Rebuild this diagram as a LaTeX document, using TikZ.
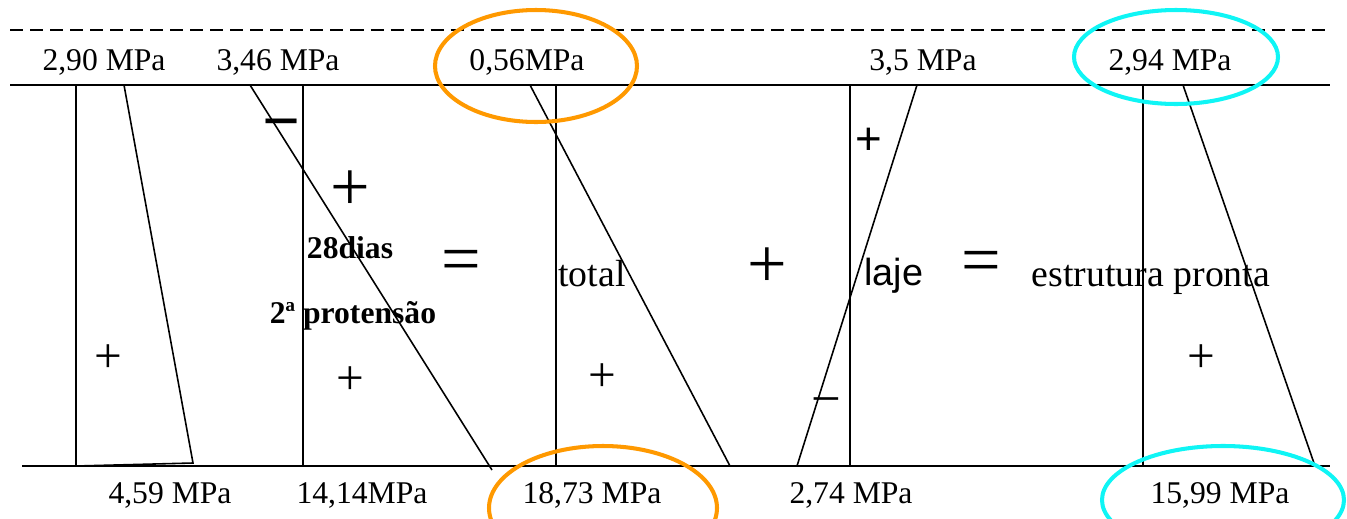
\documentclass[tikz,border=0pt]{standalone}
\usepackage{fontspec}
\setmainfont{Liberation Serif}
\newfontfamily\arialfont{Liberation Sans}
\usetikzlibrary{positioning}
\definecolor{Orange}{HTML}{FF9900}
\definecolor{Aqua}{HTML}{0FF5F5}

\begin{document}
\begin{tikzpicture}[x=0.02cm, y=-0.02cm, line width=0.9pt,
  val/.style={font=\fontsize{18}{20}\selectfont, inner sep=0pt, anchor=base},
  word/.style={font=\fontsize{21.5}{24}\selectfont, inner sep=0pt, anchor=base},
  sgn/.style={font=\fontsize{28}{30}\selectfont, inner sep=0pt},
  bigsgn/.style={font=\fontsize{40}{42}\selectfont, inner sep=0pt},
  ring/.style={line width=2.3pt}]
\useasboundingbox (0,0) rectangle (1347,518);

% section lines
\draw[dash pattern=on 7.4pt off 4pt] (10,30) coordinate (dl) -- (1330,30) coordinate (dr);
\draw (10,85) coordinate (tl) -- (1330,85) coordinate (tr);
\draw (22,466) coordinate (bl) -- (1330,466) coordinate (br);

% axes of the five diagrams
\foreach \x/\n in {76/d1,303/d2,556/d3,850/d4,1143/d5}
  \draw (\x,85) coordinate (\n t) -- (\x,466) coordinate (\n b);

% stress lines
\coordinate (p1) at (124,85);
\coordinate (q1) at (193,463);
\draw (d1t) -- (p1) -- (q1) -- (d1b);
\coordinate (p2) at (250,85);
\coordinate (q2) at (492,470);
\draw (p2) -- (q2);
\coordinate (p3) at (530,85);
\coordinate (q3) at (730,466);
\draw (p3) -- (q3);
\coordinate (p4) at (917,85);
\coordinate (q4) at (797,466);
\draw (p4) -- (q4);
\coordinate (p5) at (1183,85);
\coordinate (q5) at (1315,466);
\draw (p5) -- (q5);

% top values
\node[val] (t1) at (104,70) {2,90 MPa};
\node[val] (t2) at (278,70) {3,46 MPa};
\node[val] (t3) at (527,70) {0,56MPa};
\node[val] (t4) at (923,70) {3,5 MPa};
\node[val] (t5) at (1170,70) {2,94 MPa};

% bottom values
\node[val] (b1) at (170,503) {4,59 MPa};
\node[val] (b2) at (362,503) {14,14MPa};
\node[val] (b3) at (592,503) {18,73 MPa};
\node[val] (b4) at (851,503) {2,74 MPa};
\node[val] (b5) at (1220,503) {15,99 MPa};

% signs inside the diagrams
\node[sgn] (s1) at (108,359) {+};
\node[sgn, font=\bfseries\fontsize{38}{40}\selectfont] (s2a) at (282,131) {−};
\node[bigsgn] (s2b) at (350,191) {+};
\node[sgn] (s2c) at (350,381) {+};
\node[sgn] (s3) at (602,378) {+};
\node[sgn, font=\arialfont\fontsize{26}{28}\selectfont] (s4a) at (869,141) {+};
\node[sgn, font=\fontsize{30}{32}\selectfont] (s4b) at (826,407) {−};
\node[sgn] (s5) at (1201,359) {+};

% names and operators
\node[val, font=\bfseries\fontsize{18}{20}\selectfont] (n2a) at (350,258) {28dias};
\node[val, font=\bfseries\fontsize{18}{20}\selectfont] (n2b) at (353,323) {2ª protensão};
\node[word] (n3) at (592,286) {total};
\node[word, font=\arialfont\fontsize{21.5}{24}\selectfont] (n4) at (894,285) {laje};
\node[word] (n5) at (1151,286) {estrutura pronta};
\node[bigsgn] (eq1) at (461,266) {=};
\node[bigsgn] (op1) at (767,268) {+};
\node[bigsgn] (eq2) at (981,267) {=};

% highlights
\draw[ring, Orange] (536,66) ellipse [x radius=101, y radius=56];
\draw[ring, Orange] (603,508) ellipse [x radius=114, y radius=62];
\draw[ring, Aqua] (1176,57) ellipse [x radius=102, y radius=47];
\draw[ring, Aqua] (1223,500) ellipse [x radius=121, y radius=54];
\end{tikzpicture}
\end{document}
